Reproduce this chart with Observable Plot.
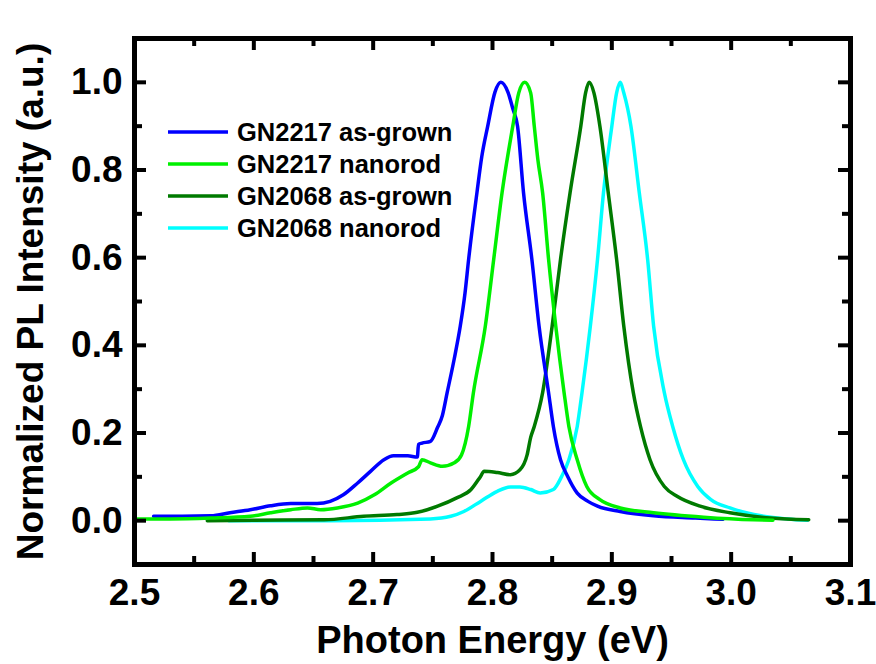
<!DOCTYPE html>
<html>
<head>
<meta charset="utf-8">
<script src="https://cdn.jsdelivr.net/npm/d3@7"></script>
<script src="https://cdn.jsdelivr.net/npm/@observablehq/plot@0.6"></script>
<style>
  html, body { margin: 0; padding: 0; background: #fff; }
  #wrap { position: relative; width: 876px; height: 664px; font-family: "Liberation Sans", Arial, sans-serif; }
  #legend { position: absolute; left: 168px; top: 116px; }
  .row { display: flex; align-items: center; height: 32px; line-height: 32px; font-size: 25.5px; font-weight: bold; color: #000; white-space: nowrap; }
  .row svg { display: block; margin-right: 9px; }
</style>
</head>
<body>
<div id="wrap"><div id="legend"></div></div>
<script>
// ---- data ----
const seriesNames = ["GN2217 as-grown", "GN2217 nanorod", "GN2068 as-grown", "GN2068 nanorod"];
const seriesColors = ["#0000ff", "#00f000", "#007a00", "#00ffff"];

const blueE = [2.516, 2.540, 2.564, 2.580, 2.597, 2.614, 2.631, 2.653, 2.664, 2.675, 2.687, 2.698, 2.709, 2.717, 2.729, 2.737, 2.738, 2.741, 2.748, 2.754, 2.758, 2.762, 2.768, 2.773, 2.777, 2.780, 2.787, 2.791, 2.796, 2.802, 2.807, 2.813, 2.817, 2.821, 2.826, 2.833, 2.839, 2.847, 2.851, 2.857, 2.863, 2.871, 2.880, 2.888, 2.907, 2.935, 2.970, 2.993];
const blueI = [0.010, 0.010, 0.011, 0.018, 0.025, 0.034, 0.039, 0.039, 0.044, 0.059, 0.086, 0.113, 0.139, 0.148, 0.148, 0.145, 0.174, 0.177, 0.181, 0.213, 0.240, 0.292, 0.370, 0.444, 0.520, 0.596, 0.749, 0.830, 0.900, 0.977, 1.000, 0.977, 0.940, 0.900, 0.748, 0.596, 0.444, 0.292, 0.215, 0.139, 0.101, 0.063, 0.044, 0.033, 0.021, 0.011, 0.006, 0.003];

const greenE = [2.501, 2.530, 2.564, 2.597, 2.614, 2.631, 2.645, 2.656, 2.670, 2.687, 2.701, 2.715, 2.729, 2.738, 2.741, 2.748, 2.758, 2.768, 2.774, 2.780, 2.784, 2.794, 2.801, 2.808, 2.817, 2.822, 2.827, 2.832, 2.835, 2.838, 2.842, 2.847, 2.853, 2.860, 2.864, 2.871, 2.879, 2.890, 2.907, 2.935, 2.977, 3.019, 3.035];
const greenI = [0.004, 0.004, 0.006, 0.010, 0.018, 0.025, 0.029, 0.025, 0.029, 0.040, 0.059, 0.086, 0.109, 0.123, 0.139, 0.132, 0.124, 0.132, 0.150, 0.215, 0.292, 0.444, 0.596, 0.748, 0.900, 0.976, 1.000, 0.976, 0.900, 0.824, 0.748, 0.596, 0.444, 0.292, 0.215, 0.139, 0.078, 0.048, 0.029, 0.018, 0.008, 0.002, 0.001];

const dkgreenE = [2.561, 2.600, 2.659, 2.692, 2.720, 2.737, 2.754, 2.770, 2.782, 2.790, 2.793, 2.804, 2.815, 2.823, 2.829, 2.832, 2.835, 2.842, 2.850, 2.857, 2.865, 2.874, 2.878, 2.881, 2.885, 2.890, 2.897, 2.904, 2.910, 2.918, 2.924, 2.932, 2.944, 2.955, 2.974, 2.999, 3.033, 3.065];
const dkgreenI = [0.000, 0.001, 0.002, 0.010, 0.014, 0.019, 0.033, 0.052, 0.071, 0.101, 0.113, 0.110, 0.105, 0.116, 0.150, 0.190, 0.215, 0.292, 0.444, 0.596, 0.748, 0.900, 0.976, 1.000, 0.976, 0.900, 0.748, 0.596, 0.444, 0.292, 0.215, 0.139, 0.078, 0.055, 0.033, 0.018, 0.006, 0.002];

const cyanE = [2.579, 2.664, 2.748, 2.765, 2.776, 2.790, 2.804, 2.815, 2.823, 2.832, 2.840, 2.851, 2.858, 2.864, 2.871, 2.875, 2.882, 2.888, 2.893, 2.900, 2.904, 2.907, 2.910, 2.916, 2.923, 2.930, 2.935, 2.944, 2.951, 2.960, 2.972, 2.983, 2.999, 3.019, 3.047, 3.064];
const cyanI = [0.000, 0.000, 0.004, 0.010, 0.021, 0.044, 0.067, 0.077, 0.077, 0.071, 0.063, 0.071, 0.101, 0.139, 0.215, 0.292, 0.444, 0.596, 0.748, 0.900, 0.976, 1.000, 0.976, 0.900, 0.748, 0.596, 0.444, 0.292, 0.215, 0.139, 0.078, 0.048, 0.029, 0.014, 0.004, 0.001];

const xMajor = [2.5, 2.6, 2.7, 2.8, 2.9, 3.0, 3.1];
const xMinor = [2.55, 2.65, 2.75, 2.85, 2.95, 3.05];
const yMajor = [0.0, 0.2, 0.4, 0.6, 0.8, 1.0];
const yMinor = [0.1, 0.3, 0.5, 0.7, 0.9];
const xLabel = "Photon Energy (eV)";
const yLabel = "Normalized PL Intensity (a.u.)";

// ---- build table (draw order: cyan, dark green, blue, green) ----
const seriesData = [[blueE, blueI], [greenE, greenI], [dkgreenE, dkgreenI], [cyanE, cyanI]];
const drawOrder = [3, 2, 0, 1];
const table = [];
for (const k of drawOrder) {
  const [E, I] = seriesData[k];
  E.forEach((e, i) => table.push({series: seriesNames[k], E: e, I: I[i]}));
}

const W = 876, H = 664, mL = 134, mR = 26, mT = 38, mB = 100;
const pW = W - mL - mR, pH = H - mT - mB;
const majorLen = 12, minorLen = 8, tickW = 4;
const font = "'Liberation Sans', Arial, sans-serif";

const chart = Plot.plot({
  width: W, height: H,
  marginLeft: mL, marginRight: mR, marginTop: mT, marginBottom: mB,
  style: {fontFamily: font, fontSize: "37px", fontWeight: "bold", background: "#fff", color: "#000", overflow: "visible"},
  x: {domain: [2.5, 3.1], ticks: xMajor, tickFormat: d3.format(".1f"), tickSize: 0, tickPadding: 14, label: null},
  y: {domain: [-0.1, 1.1], ticks: yMajor, tickFormat: d3.format(".1f"), tickSize: 0, tickPadding: 12, label: null},
  color: {domain: seriesNames, range: seriesColors},
  marks: [
    Plot.line(table, {x: "E", y: "I", z: "series", stroke: "series", strokeWidth: 3.5, strokeLinejoin: "round", curve: "monotone-x"}),
    // inward ticks on all four sides
    Plot.tickX(xMajor, {x: d => d, insetTop: pH - majorLen, stroke: "#000", strokeWidth: tickW}),
    Plot.tickX(xMinor, {x: d => d, insetTop: pH - minorLen, stroke: "#000", strokeWidth: tickW}),
    Plot.tickX(xMajor, {x: d => d, insetBottom: pH - majorLen, stroke: "#000", strokeWidth: tickW}),
    Plot.tickX(xMinor, {x: d => d, insetBottom: pH - minorLen, stroke: "#000", strokeWidth: tickW}),
    Plot.tickY(yMajor, {y: d => d, insetRight: pW - majorLen, stroke: "#000", strokeWidth: tickW}),
    Plot.tickY(yMinor, {y: d => d, insetRight: pW - minorLen, stroke: "#000", strokeWidth: tickW}),
    Plot.tickY(yMajor, {y: d => d, insetLeft: pW - majorLen, stroke: "#000", strokeWidth: tickW}),
    Plot.tickY(yMinor, {y: d => d, insetLeft: pW - minorLen, stroke: "#000", strokeWidth: tickW}),
    Plot.frame({stroke: "#000", strokeWidth: 5}),
    Plot.text([xLabel], {text: d => d, frameAnchor: "bottom", textAnchor: "middle", dy: 88, fontSize: 38, fontWeight: "bold", fill: "#000"}),
    Plot.text([yLabel], {text: d => d, frameAnchor: "left", textAnchor: "middle", rotate: -90, dx: -103, fontSize: 37, fontWeight: "bold", fill: "#000"})
  ]
});
document.getElementById("wrap").prepend(chart);

// ---- legend ----
const legend = d3.select("#legend");
seriesNames.forEach((name, i) => {
  const row = legend.append("div").attr("class", "row");
  const sw = row.append("svg").attr("width", 60).attr("height", 32);
  sw.append("line").attr("x1", 0).attr("x2", 60).attr("y1", 16).attr("y2", 16)
    .attr("stroke", seriesColors[i]).attr("stroke-width", 3.5);
  row.append("span").text(name);
});
</script>
</body>
</html>
